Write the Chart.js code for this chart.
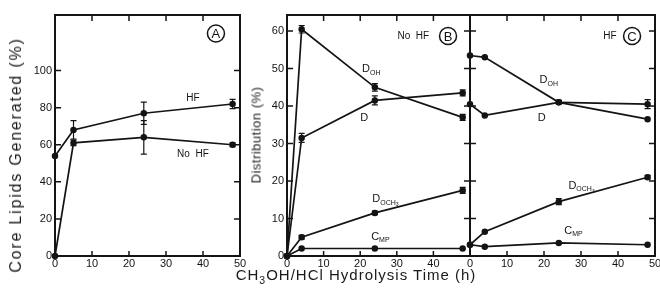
<!DOCTYPE html>
<html>
<head>
<meta charset="utf-8">
<script src="https://cdn.jsdelivr.net/npm/chart.js@4"></script>
<style>
  body { margin: 0; background: #fff; }
  #wrap { position: relative; width: 660px; height: 292px; overflow: hidden;
          font-family: "Liberation Sans", Arial, sans-serif; color: #1a1a1a; }
  canvas { position: absolute; left: 0; top: 0; }
  .t { position: absolute; white-space: nowrap; transform: translate(-50%, -50%); }
  .rot { transform: translate(-50%, -50%) rotate(-90deg); }
  sub { font-size: 0.7em; }
</style>
</head>
<body>
<div id="wrap">
  <canvas id="gA" width="660" height="292"></canvas>
  <canvas id="gB" width="660" height="292"></canvas>
  <canvas id="gC" width="660" height="292"></canvas>
  <div class="t rot" style="left:16px;top:155px;font-size:16px;letter-spacing:1.8px">Core Lipids Generated (%)</div>
  <div class="t rot" style="left:256px;top:135px;font-size:13px;letter-spacing:0.5px">Distribution (%)</div>
  <div class="t" style="left:356px;top:276px;font-size:15px;letter-spacing:1px">CH<sub>3</sub>OH/HCl Hydrolysis Time (h)</div>
</div>
<script>
// Datos
const horasA = [0, 5, 24, 48];
const hfA = [54, 68, 77, 82];
const hfAErr = [0, 5, 6, 2.5];
const noHfA = [0, 61, 64, 60];
const noHfAErr = [0, 1.5, 9, 1];

const horasBC = [0, 4, 24, 48];
const dohB = [0, 60.5, 45, 37];
const dB = [0, 31.5, 41.5, 43.5];
const dochB = [0, 5, 11.5, 17.5];
const cmpB = [0, 2, 2, 2];
const dohBErr = [0, 1, 1, 0.8];
const dBErr = [0, 1.2, 1.2, 0.8];
const dochBErr = [0, 0.5, 0.5, 0.8];

const dohC = [53.5, 53, 41, 36.5];
const dC = [40.5, 37.5, 41, 40.5];
const dochC = [3, 6.5, 14.5, 21];
const cmpC = [3, 2.5, 3.5, 3];
const dCErr = [0, 0, 0.5, 1.2];
const dochCErr = [0, 0, 0.8, 0.5];

// Etiquetas de los ejes
const ticksX = [0, 10, 20, 30, 40, 50];
const ticksYA = [0, 20, 40, 60, 80, 100];
const ticksYB = [0, 10, 20, 30, 40, 50, 60];

const tinta = "#141414";

// Construye un dataset de línea a partir de los arrays
function serie(xs, ys, errs) {
  return {
    data: xs.map((x, i) => ({ x: x, y: ys[i] })),
    errores: errs || [],
    borderColor: tinta,
    backgroundColor: tinta,
    borderWidth: 1.7,
    pointRadius: 2.4,
    pointHoverRadius: 2.4,
    tension: 0,
    clip: false,
  };
}

// Marco del gráfico y marcas de los ejes, todas hacia adentro
const marcoPlugin = {
  id: "marco",
  afterDatasetsDraw(chart) {
    const { ctx, chartArea: a, scales } = chart;
    ctx.save();
    ctx.strokeStyle = tinta;
    ctx.lineWidth = 2;
    ctx.strokeRect(a.left, a.top, a.right - a.left, a.bottom - a.top);
    ctx.lineWidth = 1.5;
    ctx.beginPath();
    scales.x.ticks.forEach((t) => {
      const px = scales.x.getPixelForValue(t.value);
      if (px <= a.left + 2 || px >= a.right - 2) return;
      ctx.moveTo(px, a.top);
      ctx.lineTo(px, a.top + 6);
      ctx.moveTo(px, a.bottom);
      ctx.lineTo(px, a.bottom - 5);
    });
    scales.y.ticks.forEach((t) => {
      const py = scales.y.getPixelForValue(t.value);
      if (py >= a.bottom - 2) return;
      ctx.moveTo(a.right, py);
      ctx.lineTo(a.right - 6, py);
      ctx.moveTo(a.left, py);
      ctx.lineTo(a.left + 6, py);
    });
    ctx.stroke();
    ctx.restore();
  },
};

// Barras de error
const erroresPlugin = {
  id: "errores",
  afterDatasetsDraw(chart) {
    const { ctx, scales } = chart;
    ctx.save();
    ctx.strokeStyle = tinta;
    ctx.lineWidth = 1.2;
    chart.data.datasets.forEach((ds) => {
      ds.data.forEach((p, i) => {
        const e = ds.errores[i];
        if (!e) return;
        const px = scales.x.getPixelForValue(p.x);
        const y1 = scales.y.getPixelForValue(p.y - e);
        const y2 = scales.y.getPixelForValue(p.y + e);
        ctx.beginPath();
        ctx.moveTo(px, y1); ctx.lineTo(px, y2);
        ctx.moveTo(px - 3, y1); ctx.lineTo(px + 3, y1);
        ctx.moveTo(px - 3, y2); ctx.lineTo(px + 3, y2);
        ctx.stroke();
      });
    });
    ctx.restore();
  },
};

// Textos dentro del gráfico (con subíndices y letras en círculo)
const etiquetasPlugin = {
  id: "etiquetas",
  afterDraw(chart, args, opts) {
    const { ctx, scales } = chart;
    const fam = '"Liberation Sans", Arial, sans-serif';
    ctx.save();
    ctx.fillStyle = tinta;
    ctx.strokeStyle = tinta;
    ctx.textBaseline = "middle";
    (opts.lista || []).forEach((e) => {
      const px = scales.x.getPixelForValue(e.x);
      const py = scales.y.getPixelForValue(e.y);
      if (e.circulo) {
        ctx.lineWidth = 1.5;
        ctx.beginPath();
        ctx.arc(px, py, 8.5, 0, Math.PI * 2);
        ctx.stroke();
        ctx.font = "13px " + fam;
        ctx.textAlign = "center";
        ctx.fillText(e.texto, px, py + 1);
        return;
      }
      ctx.textAlign = "left";
      ctx.font = (e.tam || 11) + "px " + fam;
      ctx.fillText(e.texto, px, py);
      let w = ctx.measureText(e.texto).width;
      if (e.sub) {
        ctx.font = "7px " + fam;
        ctx.fillText(e.sub, px + w, py + 4);
        const w2 = ctx.measureText(e.sub).width;
        if (e.subsub) {
          ctx.font = "5px " + fam;
          ctx.fillText(e.subsub, px + w + w2, py + 6);
        }
      }
    });
    ctx.restore();
  },
};

function opciones(cfg) {
  const fuente = { family: '"Liberation Sans", Arial, sans-serif', size: 11 };
  return {
    responsive: false,
    animation: false,
    events: [],
    layout: { padding: { left: cfg.padIzq, right: cfg.padDer, top: 15, bottom: 0 } },
    plugins: {
      legend: { display: false },
      tooltip: { enabled: false },
      etiquetas: { lista: cfg.etiquetas },
    },
    scales: {
      x: {
        type: "linear",
        min: 0,
        max: 50,
        afterBuildTicks: (s) => { s.ticks = ticksX.map((v) => ({ value: v })); },
        ticks: {
          font: fuente,
          color: tinta,
          padding: 1,
          maxRotation: 0,
          autoSkip: false,
          callback: (v) => (cfg.ocultarX.includes(v) ? "" : String(v)),
        },
        grid: { display: false, drawTicks: false },
        border: { display: false },
        afterFit: (s) => { s.height = 36; s.paddingLeft = 0; s.paddingRight = 0; },
      },
      y: {
        type: "linear",
        min: 0,
        max: cfg.yMax,
        afterBuildTicks: (s) => { s.ticks = cfg.ticksY.map((v) => ({ value: v })); },
        ticks: { display: cfg.verY, font: fuente, color: tinta, padding: 3, autoSkip: false },
        grid: { display: false, drawTicks: false },
        border: { display: false },
        afterFit: (s) => { s.width = cfg.anchoY; s.paddingTop = 0; s.paddingBottom = 0; },
      },
    },
  };
}

const plugins = [marcoPlugin, erroresPlugin, etiquetasPlugin];

// Panel A
new Chart(document.getElementById("gA"), {
  type: "line",
  data: {
    datasets: [serie(horasA, hfA, hfAErr), serie(horasA, noHfA, noHfAErr)],
  },
  options: opciones({
    padIzq: 0, padDer: 420, anchoY: 55, yMax: 130, ticksY: ticksYA, verY: true,
    ocultarX: [],
    etiquetas: [
      { x: 35.5, y: 85, texto: "HF", tam: 10 },
      { x: 33, y: 55, texto: "No  HF", tam: 10 },
      { x: 43.5, y: 120, texto: "A", circulo: true },
    ],
  }),
  plugins: plugins,
});

// Panel B
new Chart(document.getElementById("gB"), {
  type: "line",
  data: {
    datasets: [
      serie(horasBC, dohB, dohBErr),
      serie(horasBC, dB, dBErr),
      serie(horasBC, dochB, dochBErr),
      serie(horasBC, cmpB),
    ],
  },
  options: opciones({
    padIzq: 232, padDer: 190, anchoY: 55, yMax: 64.3, ticksY: ticksYB, verY: true,
    ocultarX: [50],
    etiquetas: [
      { x: 30.2, y: 58.7, texto: "No  HF", tam: 10 },
      { x: 44, y: 58.7, texto: "B", circulo: true },
      { x: 20.5, y: 50, texto: "D", sub: "OH" },
      { x: 20, y: 36.7, texto: "D" },
      { x: 23.3, y: 15.3, texto: "D", sub: "OCH", subsub: "3" },
      { x: 23, y: 5.2, texto: "C", sub: "MP" },
    ],
  }),
  plugins: plugins,
});

// Panel C
new Chart(document.getElementById("gC"), {
  type: "line",
  data: {
    datasets: [
      serie(horasBC, dohC),
      serie(horasBC, dC, dCErr),
      serie(horasBC, dochC, dochCErr),
      serie(horasBC, cmpC),
    ],
  },
  options: opciones({
    padIzq: 465, padDer: 5, anchoY: 5, yMax: 64.3, ticksY: ticksYB, verY: false,
    ocultarX: [],
    etiquetas: [
      { x: 36, y: 58.7, texto: "HF", tam: 10 },
      { x: 43.8, y: 58.7, texto: "C", circulo: true },
      { x: 18.8, y: 47, texto: "D", sub: "OH" },
      { x: 18.3, y: 36.7, texto: "D" },
      { x: 26.6, y: 18.8, texto: "D", sub: "OCH", subsub: "3" },
      { x: 25.5, y: 6.8, texto: "C", sub: "MP" },
    ],
  }),
  plugins: plugins,
});
</script>
</body>
</html>
